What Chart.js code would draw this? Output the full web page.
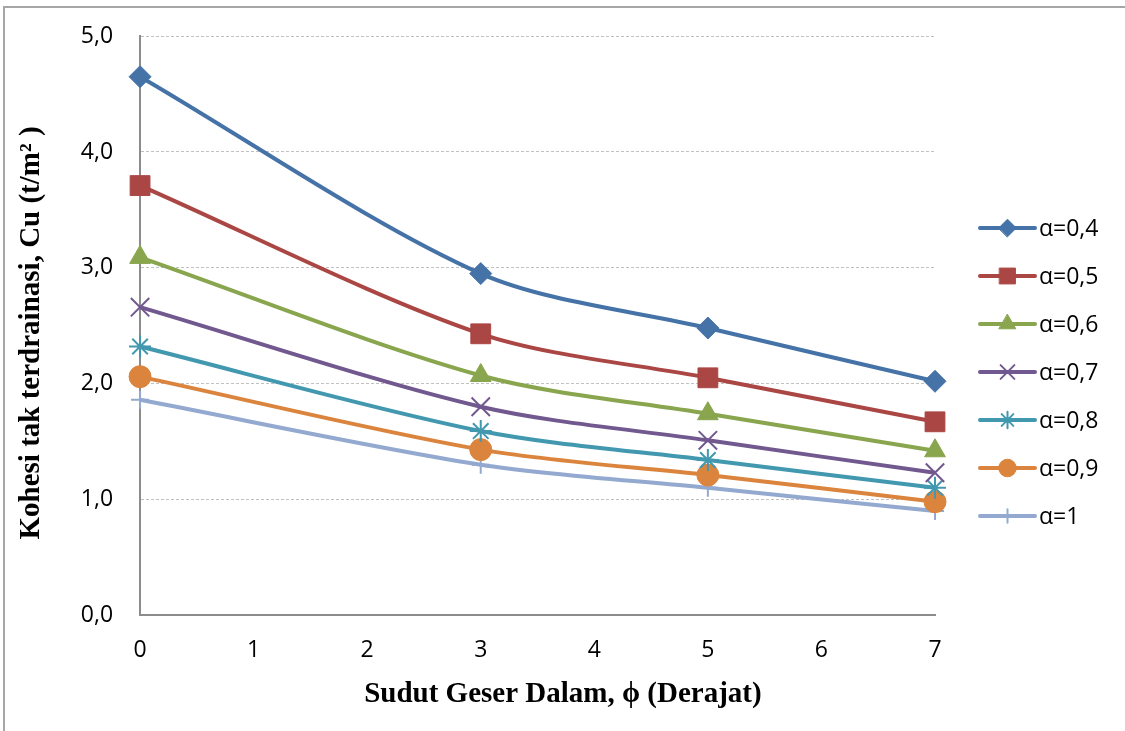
<!DOCTYPE html>
<html>
<head>
<meta charset="utf-8">
<script src="https://cdn.jsdelivr.net/npm/chart.js@4/dist/chart.umd.min.js"></script>
<style>
  body { margin: 0; background: #fff; overflow: hidden; }
  #frame { position: absolute; left: 3px; top: 6px; width: 1200px; height: 800px; border: 2px solid #a6a6a6; }
  #wrap { position: absolute; left: 0; top: 0; width: 1125px; height: 731px; }
</style>
</head>
<body>
<div id="frame"></div>
<div id="wrap"><canvas id="chart" width="1125" height="731"></canvas></div>
<script>
// sudut geser dalam (derajat)
const phi = [0, 3, 5, 7];

// kohesi Cu (t/m2) per alpha
const a04 = [4.65, 2.95, 2.48, 2.02];
const a05 = [3.71, 2.43, 2.05, 1.67];
const a06 = [3.09, 2.07, 1.74, 1.42];
const a07 = [2.66, 1.80, 1.51, 1.23];
const a08 = [2.32, 1.59, 1.34, 1.10];
const a09 = [2.06, 1.43, 1.21, 0.98];
const a10 = [1.86, 1.30, 1.10, 0.90];

const seriesLabels = ['α=0,4', 'α=0,5', 'α=0,6', 'α=0,7', 'α=0,8', 'α=0,9', 'α=1'];
const yTicks = [0, 1, 2, 3, 4, 5];
const xTicks = [0, 1, 2, 3, 4, 5, 6, 7];

const colors = ['#4572A7', '#AA4643', '#89A54E', '#71588F', '#4198AF', '#DB843D', '#93A9CF'];
const markers = ['rectRot', 'rect', 'triangle', 'crossRot', 'star', 'circle', 'cross'];
const radii = [11, 14, 12, 13, 11, 11, 9];

const allData = [a04, a05, a06, a07, a08, a09, a10];

const isStroke = m => m === 'crossRot' || m === 'star' || m === 'cross';

const datasets = allData.map((vals, i) => ({
    label: seriesLabels[i],
    data: vals.map((v, k) => ({ x: phi[k], y: v })),
    borderColor: colors[i],
    backgroundColor: colors[i],
    borderWidth: 4,
    tension: 0.3,
    clip: false,
    pointStyle: markers[i],
    pointRadius: radii[i],
    pointBorderWidth: isStroke(markers[i]) ? 2 : 1,
    pointBorderColor: colors[i],
    pointBackgroundColor: colors[i]
}));

// legend kanan: garis + marker
const sideLegend = {
    id: 'sideLegend',
    afterDraw(chart) {
        const ctx = chart.ctx;
        const x0 = 980, x1 = 1035, y0 = 228, step = 48;
        chart.data.datasets.forEach((ds, i) => {
            const y = y0 + i * step;
            ctx.save();
            ctx.strokeStyle = ds.borderColor;
            ctx.lineWidth = 4;
            ctx.lineCap = 'round';
            ctx.beginPath();
            ctx.moveTo(x0, y);
            ctx.lineTo(x1, y);
            ctx.stroke();
            ctx.fillStyle = ds.pointBackgroundColor;
            ctx.strokeStyle = ds.pointBorderColor;
            ctx.lineWidth = ds.pointBorderWidth;
            const r = isStroke(ds.pointStyle) ? ds.pointRadius * 0.75 : ds.pointRadius * 0.8;
            Chart.helpers.drawPoint(ctx, { pointStyle: ds.pointStyle, radius: r, rotation: 0, borderWidth: ds.pointBorderWidth }, (x0 + x1) / 2, y);
            ctx.fillStyle = '#000';
            ctx.font = '23px "Open Sans", sans-serif';
            ctx.textBaseline = 'middle';
            ctx.fillText(ds.label, x1 + 4, y + 1);
            ctx.restore();
        });
    }
};

const nbsp = n => '\u00A0'.repeat(n);

new Chart(document.getElementById('chart'), {
    type: 'line',
    data: { datasets: datasets },
    options: {
        responsive: false,
        animation: false,
        layout: { padding: { left: 14, top: 20, right: 190, bottom: 28 } },
        plugins: { legend: { display: false }, tooltip: { enabled: false } },
        scales: {
            x: {
                type: 'linear',
                min: 0, max: 7,
                afterBuildTicks: axis => { axis.ticks = xTicks.map(v => ({ value: v })); },
                grid: { display: false, drawTicks: false },
                border: { color: '#8c8c8c', width: 2 },
                ticks: { color: '#000', font: { family: '"Open Sans", sans-serif', size: 23, lineHeight: 0.8 }, padding: 26 },
                title: {
                    display: true,
                    text: nbsp(7) + 'Sudut Geser Dalam, ϕ (Derajat)',
                    color: '#000',
                    font: { family: '"Liberation Serif", serif', size: 29, weight: 'bold', lineHeight: 0.6 },
                    padding: { top: 0, bottom: 0 }
                }
            },
            y: {
                min: 0, max: 5,
                afterBuildTicks: axis => { axis.ticks = yTicks.map(v => ({ value: v })); },
                grid: {
                    color: ctx => ctx.tick.value === 0 ? 'rgba(0,0,0,0)' : '#c0c0c0',
                    lineWidth: 1,
                    drawTicks: false
                },
                border: { color: '#8c8c8c', width: 2, dash: [3, 2], dashOffset: 0 },
                ticks: {
                    color: '#000',
                    font: { family: '"Open Sans", sans-serif', size: 23, lineHeight: 0.8 },
                    padding: 27,
                    callback: v => v.toFixed(1).replace('.', ',')
                },
                title: {
                    display: true,
                    text: 'Kohesi tak terdrainasi, Cu (t/m² )' + nbsp(2),
                    color: '#000',
                    font: { family: '"Liberation Serif", serif', size: 29, weight: 'bold' },
                    padding: { top: 0, bottom: 5 }
                }
            }
        }
    },
    plugins: [sideLegend]
});
</script>
</body>
</html>
